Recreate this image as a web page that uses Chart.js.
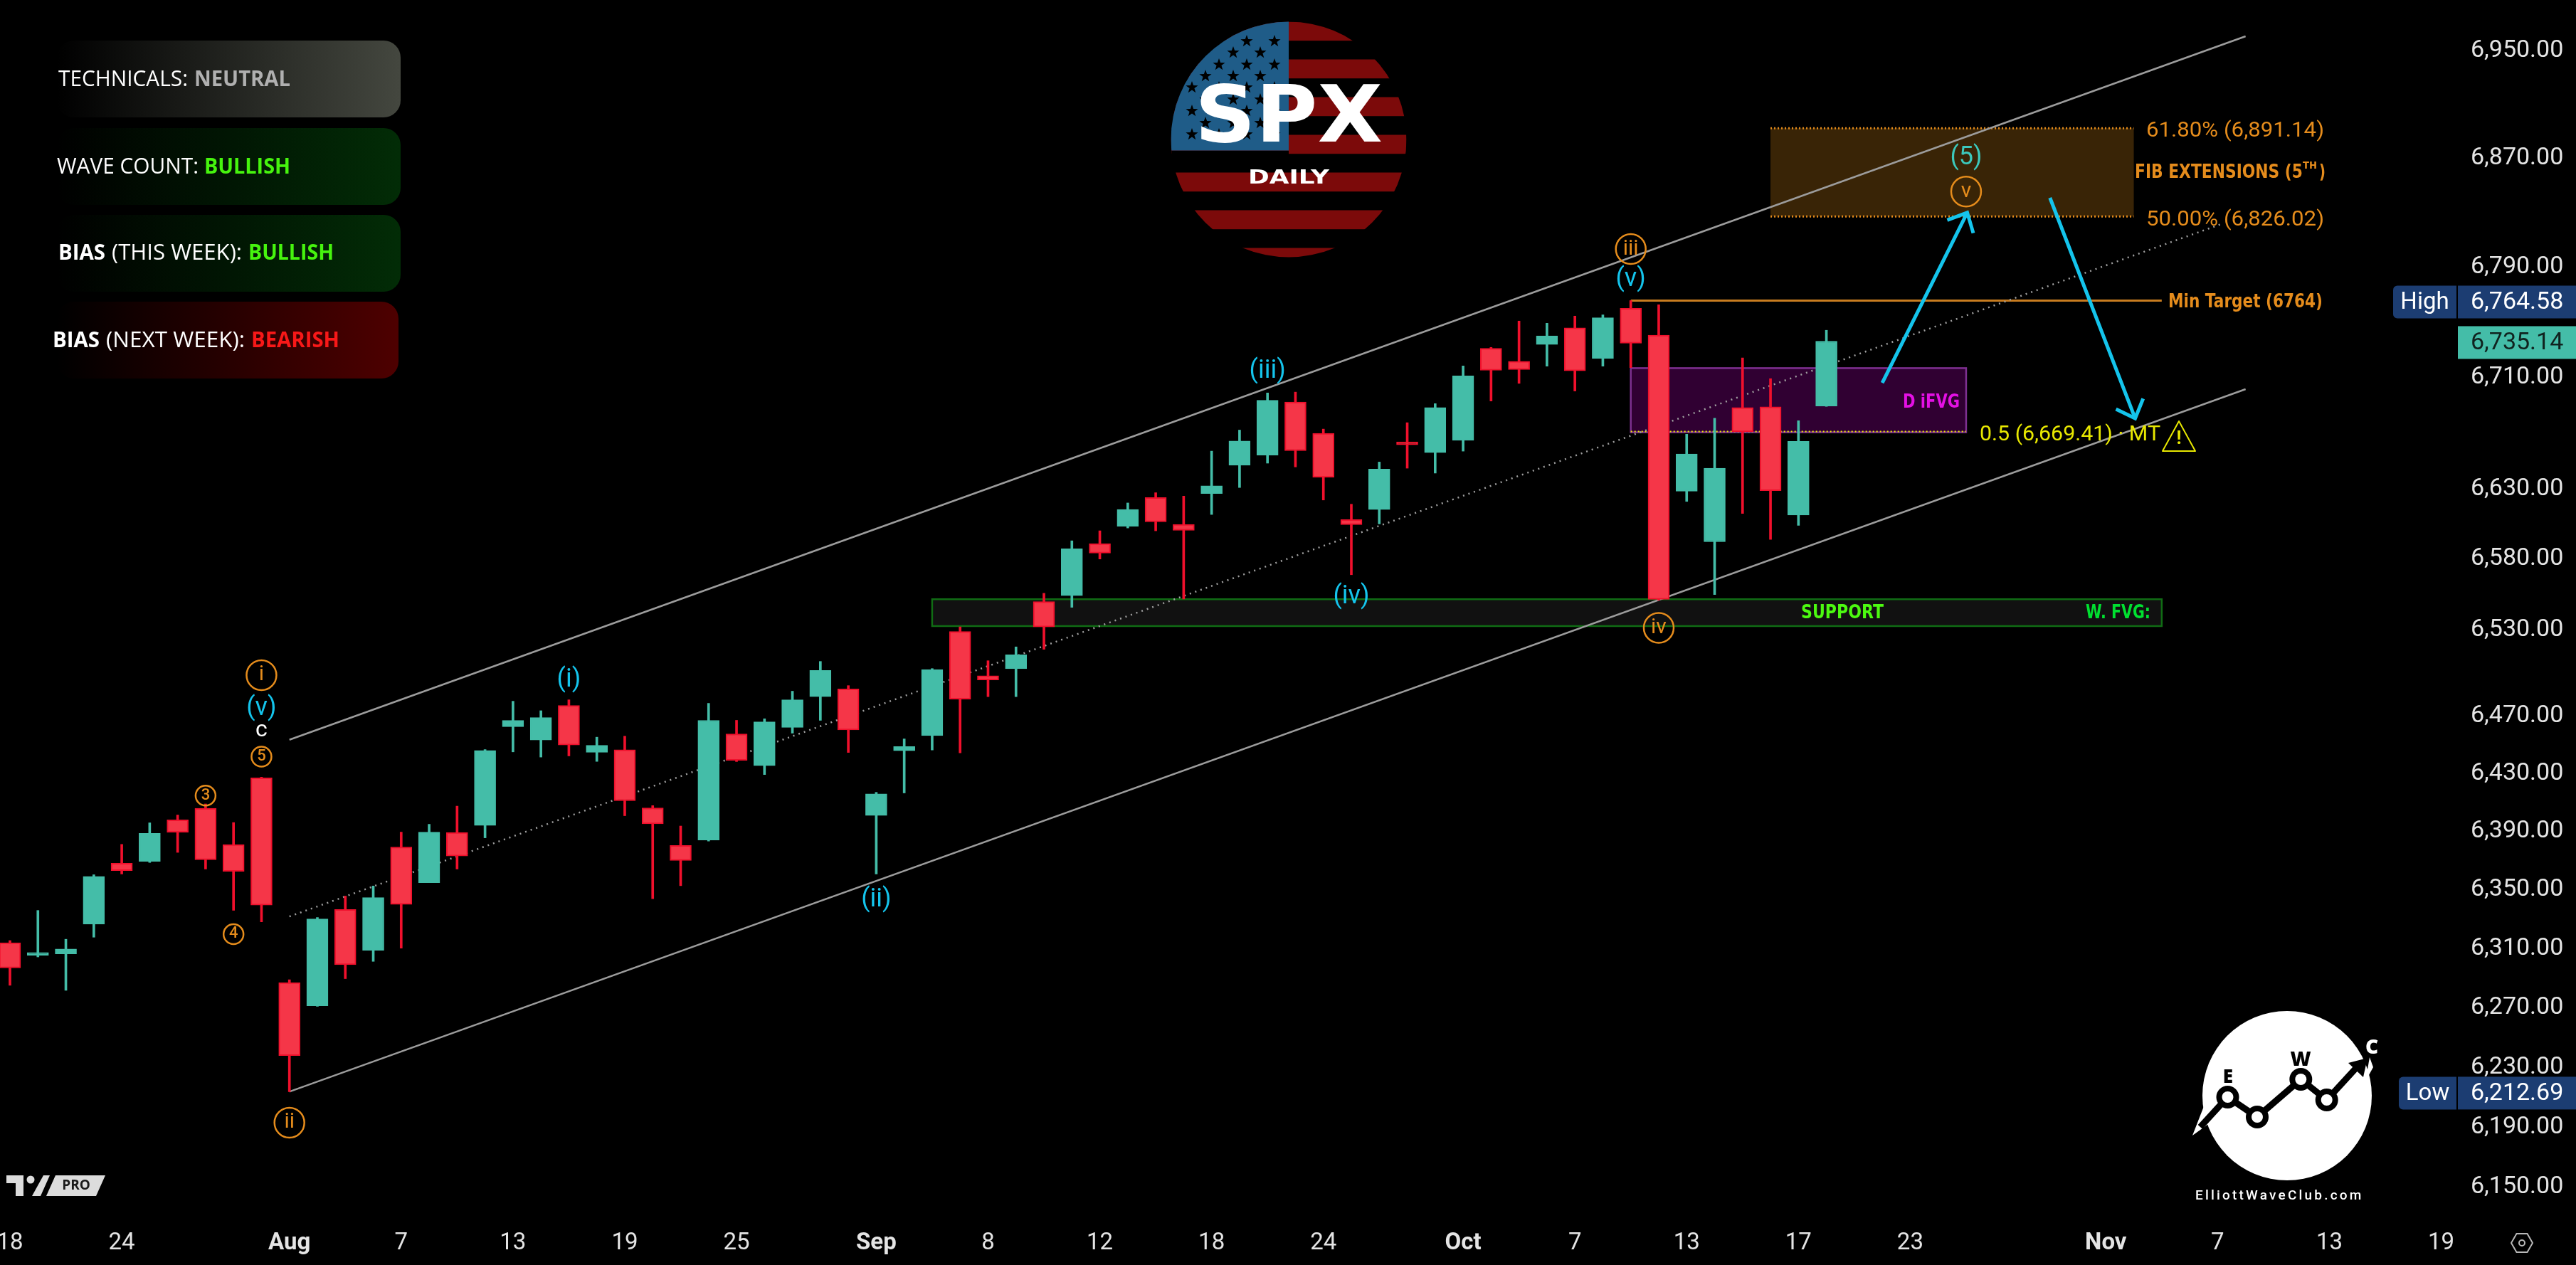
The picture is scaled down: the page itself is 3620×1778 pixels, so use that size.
<!DOCTYPE html>
<html lang="en">
<head>
<meta charset="utf-8">
<title>SPX Daily</title>
<script src="https://cdn.jsdelivr.net/npm/chart.js@4/dist/chart.umd.min.js"></script>
<style>
    html, body { margin: 0; padding: 0; background: #000; }
    canvas { display: block; }
</style>
</head>
<body>
<canvas id="spxChart" width="3620" height="1778"></canvas>
<script>
// daily candles, one entry per trading session
const dates = [
    'Jul 18', 'Jul 21', 'Jul 22', 'Jul 23', 'Jul 24', 'Jul 25', 'Jul 28', 'Jul 29', 'Jul 30', 'Jul 31',
    'Aug 1', 'Aug 4', 'Aug 5', 'Aug 6', 'Aug 7', 'Aug 8', 'Aug 11', 'Aug 12', 'Aug 13', 'Aug 14',
    'Aug 15', 'Aug 18', 'Aug 19', 'Aug 20', 'Aug 21', 'Aug 22', 'Aug 25', 'Aug 26', 'Aug 27', 'Aug 28',
    'Aug 29', 'Sep 2', 'Sep 3', 'Sep 4', 'Sep 5', 'Sep 8', 'Sep 9', 'Sep 10', 'Sep 11', 'Sep 12',
    'Sep 15', 'Sep 16', 'Sep 17', 'Sep 18', 'Sep 19', 'Sep 22', 'Sep 23', 'Sep 24', 'Sep 25', 'Sep 26',
    'Sep 29', 'Sep 30', 'Oct 1', 'Oct 2', 'Oct 3', 'Oct 6', 'Oct 7', 'Oct 8', 'Oct 9', 'Oct 10',
    'Oct 13', 'Oct 14', 'Oct 15', 'Oct 16', 'Oct 17', 'Oct 20'
];
const opens = [
    6313, 6304.5, 6305.5, 6325.7, 6367.2, 6368.5, 6397, 6405, 6380, 6426,
    6286, 6270.4, 6335.6, 6307.9, 6378.3, 6354, 6388.4, 6393.2, 6461.5, 6452.2,
    6476.2, 6443.7, 6445.5, 6405.3, 6379.5, 6383.2, 6456.5, 6434.5, 6461, 6482.4,
    6487.8, 6400.1, 6444.8, 6455.3, 6528, 6497, 6501.9, 6549, 6553.2, 6590,
    6602.3, 6622.7, 6603.7, 6625.6, 6645.8, 6653, 6691.2, 6668.7, 6607, 6614.2,
    6661, 6654.9, 6663.6, 6729.9, 6720.5, 6732.7, 6744.8, 6722.6, 6759, 6739.4,
    6627.3, 6591.3, 6687.2, 6687.7, 6610.3, 6688.3
];
const highs = [
    6314.5, 6335, 6315.4, 6359.4, 6380.2, 6395, 6400.4, 6408, 6395.2, 6426.5,
    6288, 6330.2, 6344.8, 6351.7, 6388.6, 6394, 6406.5, 6445.6, 6479.2, 6472.6,
    6480.2, 6454.2, 6454.9, 6406.8, 6392.8, 6477.7, 6465.9, 6467, 6486.2, 6507,
    6490.1, 6416, 6453, 6502, 6531.2, 6507.5, 6517.2, 6554.9, 6592, 6599.1,
    6618.9, 6626.2, 6623.8, 6655.9, 6671, 6697.7, 6698.3, 6671.7, 6618, 6648.1,
    6676.3, 6690, 6717.2, 6730.6, 6749.7, 6748.1, 6753.3, 6754.2, 6764.58, 6761.5,
    6668, 6679.5, 6723, 6708, 6677.7, 6743
];
const lows = [
    6284.2, 6303.4, 6280.8, 6316.8, 6359.9, 6367.8, 6374.7, 6363.3, 6335.1, 6327.2,
    6212.69, 6270, 6288.7, 6300.4, 6309.3, 6354, 6363.3, 6384.7, 6444, 6440.4,
    6441.2, 6437.4, 6399.9, 6343, 6351.9, 6382.5, 6437.3, 6428.3, 6457, 6465.9,
    6443.6, 6359.9, 6415.6, 6445.3, 6443.3, 6482.4, 6482.4, 6515.5, 6545, 6579.1,
    6601.1, 6599.1, 6550.8, 6610.7, 6629.9, 6647.3, 6644.6, 6621, 6568, 6604,
    6643.7, 6640.2, 6655.9, 6691.9, 6704.6, 6717, 6699.1, 6717, 6716, 6550,
    6620, 6554, 6611.4, 6593, 6602.9, 6688
];
const closes = [
    6296, 6305, 6308.8, 6358.2, 6362.2, 6387.7, 6388.4, 6369.7, 6361.7, 6338.6,
    6236.8, 6329.2, 6298.2, 6343.8, 6339.1, 6388.6, 6372.2, 6445, 6465.8, 6467.8,
    6448.8, 6448.5, 6410.2, 6394.3, 6369.2, 6465.9, 6438.2, 6464.8, 6480.2, 6500.7,
    6459.3, 6415, 6447.7, 6501.3, 6480.7, 6494.1, 6511.7, 6531.2, 6586.3, 6583.3,
    6614.2, 6605.5, 6599.4, 6631.1, 6663.2, 6692.4, 6656.2, 6637.1, 6603.5, 6643,
    6660.5, 6687.2, 6710, 6714.1, 6714.6, 6738.9, 6713.7, 6752.1, 6733.6, 6550.6,
    6653.9, 6643.7, 6669.7, 6627.7, 6662.9, 6735.14
];

// axis ticks; the time axis counts in session slots and runs past the last candle
const priceTicks = [6950, 6870, 6790, 6710, 6630, 6580, 6530, 6470, 6430, 6390, 6350, 6310, 6270, 6230, 6190, 6150];
const timeTickSlots = [0, 4, 10, 14, 18, 22, 26, 31, 35, 39, 43, 47, 52, 56, 60, 64, 68, 75, 79, 83, 87];
const timeTickLabels = ['18', '24', 'Aug', '7', '13', '19', '25', 'Sep', '8', '12', '18', '24', 'Oct', '7', '13', '17', '23', 'Nov', '7', '13', '19'];
const monthLabels = ['Aug', 'Sep', 'Oct', 'Nov'];

// channel lines as [slot, price] pairs
const channelUpper = [[10, 6452.4], [80, 6959.7]];
const channelMiddle = [[10, 6330.9], [79.2, 6821]];
const channelLower = [[10, 6212.69], [80, 6700.4]];
const minTargetLine = [[58, 6764.58], [77, 6764.58]];

// zones as [first slot, last slot, top price, bottom price]
const fibZone = [63, 76, 6891.14, 6826.02];
const ifvgZone = [58, 70, 6715.6, 6669.41];
const supportZone = [33, 77, 6550.7, 6531.8];

// forecast arrows as [slot, price] from tail to tip
const arrowUp = [[67, 6705], [70.04, 6828.9]];
const arrowDown = [[73, 6839.8], [76.05, 6679.4]];

// wave labels as [text, slot, price]
const cyanWaves = [
    ['(v)', 9, 6473.9], ['(i)', 20, 6494], ['(ii)', 31, 6342.2], ['(iii)', 45, 6713.4],
    ['(iv)', 48, 6552.4], ['(v)', 58, 6779.9]
];
const circledWaves = [
    ['i', 9, 6497.4, 21], ['5', 9, 6440.7, 14], ['3', 7, 6413.8, 14], ['4', 8, 6318.9, 14],
    ['ii', 10, 6192, 21], ['iii', 58, 6802.2, 21], ['iv', 59, 6530.5, 21], ['v', 70, 6844.4, 21]
];

const sessionHigh = 6764.58;
const sessionLow = 6212.69;
const lastPrice = 6735.14;

const UP = '#44bda8';
const DOWN = '#f53648';
const DOWN_EDGE = '#f0102c';
const ORANGE = '#e58c1c';
const CYAN = '#14c4ec';
const YELLOW = '#e8e800';
const UI_FONT = '"Open Sans", sans-serif';
const AXIS_FONT = 'Roboto, sans-serif';

// draws text squeezed or stretched to an exact pixel width
function fitText (ctx, text, left, cy, width, font, color) {
    ctx.save();
    ctx.textAlign = 'left';
    ctx.textBaseline = 'middle';
    ctx.font = font;
    ctx.fillStyle = color;
    ctx.translate(left, cy);
    ctx.scale(width / ctx.measureText(text).width, 1);
    ctx.fillText(text, 0, 0);
    ctx.restore();
}

function centerText (ctx, text, x, y, font, color) {
    ctx.save();
    ctx.font = font;
    ctx.fillStyle = color;
    ctx.textAlign = 'center';
    ctx.textBaseline = 'middle';
    ctx.fillText(text, x, y);
    ctx.restore();
}

function roundedPanel (ctx, x, y, w, h, r, color) {
    const fill = ctx.createLinearGradient(x, 0, x + w, 0);
    fill.addColorStop(0, color + '00');
    fill.addColorStop(1, color);
    ctx.fillStyle = fill;
    ctx.beginPath();
    ctx.roundRect(x, y, w, h, r);
    ctx.fill();
}

function drawStatusPanels (ctx) {
    const thin = '400 31px ' + UI_FONT;
    const bold = '700 31px ' + UI_FONT;
    const green = '#46f40e';
    roundedPanel(ctx, 80, 57, 483, 108, 24, '#44473f');
    roundedPanel(ctx, 80, 180, 483, 108, 24, '#022c06');
    roundedPanel(ctx, 80, 302, 483, 108, 24, '#022c06');
    roundedPanel(ctx, 80, 424, 480, 108, 24, '#4e0000');

    fitText(ctx, 'TECHNICALS:', 82, 112, 182, thin, '#fff');
    fitText(ctx, 'NEUTRAL', 273, 112, 135, bold, '#b0b0b0');
    fitText(ctx, 'WAVE COUNT:', 80, 235, 199, thin, '#fff');
    fitText(ctx, 'BULLISH', 287, 235, 121, bold, green);
    fitText(ctx, 'BIAS', 82, 356, 66, bold, '#fff');
    fitText(ctx, '(THIS WEEK):', 157, 356, 183, thin, '#fff');
    fitText(ctx, 'BULLISH', 349, 356, 120, bold, green);
    fitText(ctx, 'BIAS', 74, 479, 66, bold, '#fff');
    fitText(ctx, '(NEXT WEEK):', 149, 479, 195, thin, '#fff');
    fitText(ctx, 'BEARISH', 353, 479, 124, bold, '#f81818');
}

function starPath (ctx, cx, cy, r) {
    ctx.beginPath();
    for (let i = 0; i < 10; i++) {
        const radius = i % 2 ? r * 0.4 : r;
        const a = -Math.PI / 2 + i * Math.PI / 5;
        ctx.lineTo(cx + Math.cos(a) * radius, cy + Math.sin(a) * radius);
    }
    ctx.closePath();
}

function drawFlagBadge (ctx) {
    const cx = 1811, cy = 196, r = 165.5;
    ctx.save();
    ctx.beginPath();
    ctx.arc(cx, cy, r, 0, Math.PI * 2);
    ctx.clip();
    ctx.fillStyle = '#7c0a0a';
    for (let y = 30.5; y < 362; y += 53) {
        ctx.fillRect(cx - r, y, r * 2, 26.7);
    }
    ctx.fillStyle = '#000';
    ctx.fillRect(cx - r, 211.5, r, 27);
    ctx.fillStyle = '#1f5c88';
    ctx.fillRect(cx - r, 30, r, 181.5);
    ctx.fillStyle = '#000';
    const starRows = [
        [58, [1752, 1791]], [74, [1733, 1771]], [91, [1713, 1752, 1791]], [107, [1694, 1733, 1771]],
        [123, [1675, 1713, 1752, 1791]], [140, [1694, 1733, 1771]], [156, [1675, 1713, 1752, 1791]],
        [173, [1694, 1733, 1771]], [189, [1675, 1713, 1752, 1791]]
    ];
    starRows.forEach(([y, xs]) => xs.forEach(x => {
        starPath(ctx, x, y, 9);
        ctx.fill();
    }));
    ctx.restore();
    fitText(ctx, 'SPX', 1679, 170, 264, '700 110px "DejaVu Sans", sans-serif', '#fff');
    fitText(ctx, 'DAILY', 1754, 251, 114, '700 27px "DejaVu Sans", sans-serif', '#fff');
}

function drawClubBadge (ctx) {
    ctx.save();
    ctx.fillStyle = '#fff';
    ctx.beginPath();
    ctx.arc(3214, 1540, 119, 0, Math.PI * 2);
    ctx.fill();
    ctx.beginPath();
    ctx.moveTo(3081, 1596);
    ctx.lineTo(3106, 1578);
    ctx.lineTo(3097, 1555);
    ctx.fill();
    ctx.beginPath();
    ctx.moveTo(3330, 1486);
    ctx.lineTo(3335, 1500);
    ctx.lineTo(3324, 1520);
    ctx.fill();

    const nodes = [[3130.5, 1542], [3172, 1570], [3233.3, 1517], [3269.7, 1546]];
    ctx.strokeStyle = '#000';
    ctx.fillStyle = '#000';
    ctx.lineWidth = 9;
    ctx.beginPath();
    ctx.moveTo(3092, 1584);
    nodes.forEach(([x, y]) => ctx.lineTo(x, y));
    ctx.lineTo(3312, 1500);
    ctx.stroke();
    ctx.beginPath();
    ctx.moveTo(3327, 1487);
    ctx.lineTo(3300, 1494);
    ctx.lineTo(3321, 1514);
    ctx.fill();
    nodes.forEach(([x, y]) => {
        ctx.fillStyle = '#000';
        ctx.beginPath();
        ctx.arc(x, y, 16, 0, Math.PI * 2);
        ctx.fill();
        ctx.fillStyle = '#fff';
        ctx.beginPath();
        ctx.arc(x, y, 8, 0, Math.PI * 2);
        ctx.fill();
    });
    ctx.restore();
    centerText(ctx, 'E', 3131, 1515, '800 26px ' + UI_FONT, '#000');
    centerText(ctx, 'W', 3233, 1490, '800 28px ' + UI_FONT, '#000');
    centerText(ctx, 'C', 3333, 1473, '800 28px ' + UI_FONT, '#fff');
    ctx.save();
    ctx.letterSpacing = '3.2px';
    ctx.textAlign = 'left';
    ctx.textBaseline = 'middle';
    ctx.font = '500 19px ' + AXIS_FONT;
    ctx.fillStyle = '#fff';
    ctx.fillText('ElliottWaveClub.com', 3085, 1681);
    ctx.restore();
}

function drawTvLogo (ctx) {
    ctx.save();
    ctx.fillStyle = '#dcdcdc';
    ctx.beginPath();
    ctx.moveTo(9, 1652);
    ctx.lineTo(33, 1652);
    ctx.lineTo(33, 1681);
    ctx.lineTo(22, 1681);
    ctx.lineTo(22, 1663);
    ctx.lineTo(9, 1663);
    ctx.closePath();
    ctx.fill();
    ctx.beginPath();
    ctx.arc(43, 1658, 5.5, 0, Math.PI * 2);
    ctx.fill();
    ctx.beginPath();
    ctx.moveTo(45, 1681);
    ctx.lineTo(61, 1652);
    ctx.lineTo(70, 1652);
    ctx.lineTo(57, 1681);
    ctx.closePath();
    ctx.fill();
    ctx.beginPath();
    ctx.moveTo(78, 1652);
    ctx.lineTo(148, 1652);
    ctx.lineTo(135, 1681);
    ctx.lineTo(65, 1681);
    ctx.closePath();
    ctx.fill();
    ctx.restore();
    centerText(ctx, 'PRO', 107, 1667, '700 19px ' + UI_FONT, '#1a1a1a');
}

function drawGear (ctx) {
    const cx = 3544, cy = 1747, r = 15;
    ctx.save();
    ctx.strokeStyle = '#b8b8b8';
    ctx.lineWidth = 2;
    ctx.beginPath();
    for (let i = 0; i < 6; i++) {
        const a = i * Math.PI / 3;
        ctx.lineTo(cx + Math.cos(a) * r, cy + Math.sin(a) * r);
    }
    ctx.closePath();
    ctx.stroke();
    ctx.beginPath();
    ctx.arc(cx, cy, 4, 0, Math.PI * 2);
    ctx.stroke();
    ctx.restore();
}

function zoneRect (chart, zone) {
    const { x, y } = chart.scales;
    const left = x.getPixelForValue(zone[0]);
    const right = x.getPixelForValue(zone[1]);
    const top = y.getPixelForValue(zone[2]);
    const bottom = y.getPixelForValue(zone[3]);
    return { left, right, top, bottom, width: right - left, height: bottom - top };
}

function hLine (ctx, x1, x2, y, color, width, dash) {
    ctx.save();
    ctx.strokeStyle = color;
    ctx.lineWidth = width;
    ctx.setLineDash(dash || []);
    ctx.beginPath();
    ctx.moveTo(x1, y);
    ctx.lineTo(x2, y);
    ctx.stroke();
    ctx.restore();
}

// shaded zones sit under the channel lines and the candles
const zonesPlugin = {
    id: 'zones',
    beforeDatasetsDraw (chart) {
        const ctx = chart.ctx;

        let r = zoneRect(chart, fibZone);
        ctx.fillStyle = '#392406';
        ctx.fillRect(r.left, r.top, r.width, r.height);
        hLine(ctx, r.left, r.right, r.top, ORANGE, 3, [2, 3]);
        hLine(ctx, r.left, r.right, r.bottom, ORANGE, 3, [2, 3]);

        r = zoneRect(chart, ifvgZone);
        ctx.fillStyle = '#300032';
        ctx.fillRect(r.left, r.top, r.width, r.height);
        ctx.strokeStyle = '#7d3090';
        ctx.lineWidth = 2.5;
        ctx.strokeRect(r.left, r.top, r.width, r.height);
        hLine(ctx, r.left, r.right, r.bottom - 1, YELLOW, 2, [2, 3]);

        r = zoneRect(chart, supportZone);
        ctx.fillStyle = '#111111';
        ctx.fillRect(r.left, r.top, r.width, r.height);
        ctx.strokeStyle = '#106c14';
        ctx.lineWidth = 2.5;
        ctx.strokeRect(r.left, r.top, r.width, r.height);
    }
};

function drawArrow (chart, points) {
    const { x, y } = chart.scales;
    const ctx = chart.ctx;
    const x1 = x.getPixelForValue(points[0][0]);
    const y1 = y.getPixelForValue(points[0][1]);
    const x2 = x.getPixelForValue(points[1][0]);
    const y2 = y.getPixelForValue(points[1][1]);
    const back = Math.atan2(y1 - y2, x1 - x2);
    const spread = 43 * Math.PI / 180;
    ctx.save();
    ctx.strokeStyle = CYAN;
    ctx.lineWidth = 5;
    ctx.beginPath();
    ctx.moveTo(x1, y1);
    ctx.lineTo(x2, y2);
    ctx.moveTo(x2 + Math.cos(back - spread) * 30, y2 + Math.sin(back - spread) * 30);
    ctx.lineTo(x2, y2);
    ctx.lineTo(x2 + Math.cos(back + spread) * 30, y2 + Math.sin(back + spread) * 30);
    ctx.stroke();
    ctx.restore();
}

function drawPriceBadge (ctx, price, name, box, color, textColor) {
    // Roboto's middle baseline sits a little high, nudge the badge with it
    const y = ctx.canvas.chartY(price) + 2;
    ctx.fillStyle = color;
    if (name) {
        ctx.beginPath();
        ctx.roundRect(box, y - 23, 3452 - box, 46, [6, 0, 0, 6]);
        ctx.fill();
        centerText(ctx, name, (box + 3452) / 2, y + 1, '400 33px ' + AXIS_FONT, '#fff');
    }
    ctx.fillStyle = color;
    ctx.fillRect(3454, y - 23, 166, 46);
    ctx.save();
    ctx.font = '400 34px ' + AXIS_FONT;
    ctx.fillStyle = textColor;
    ctx.textAlign = 'left';
    ctx.textBaseline = 'middle';
    ctx.fillText(priceText(price), 3472, y + 1);
    ctx.restore();
}

const priceText = v => v.toLocaleString('en-US', { minimumFractionDigits: 2, maximumFractionDigits: 2 });

// labels, arrows, price badges and the corner artwork go over everything else
const overlayPlugin = {
    id: 'overlay',
    afterDatasetsDraw (chart) {
        const ctx = chart.ctx;
        const { x, y } = chart.scales;
        ctx.canvas.chartY = price => y.getPixelForValue(price);

        const levelText = '400 30px ' + AXIS_FONT;
        const narrowBold = '700 26px "DejaVu Sans", sans-serif';
        fitText(ctx, '61.80% (6,891.14)', 3016, 184, 250, levelText, ORANGE);
        fitText(ctx, '50.00% (6,826.02)', 3016, 309, 250, levelText, ORANGE);
        fitText(ctx, 'FIB EXTENSIONS (5', 3000, 243, 236, narrowBold, ORANGE);
        fitText(ctx, 'TH', 3236, 233, 20, '700 14px "DejaVu Sans", sans-serif', ORANGE);
        fitText(ctx, ')', 3259, 243, 9, narrowBold, ORANGE);
        fitText(ctx, 'Min Target (6764)', 3047, 425, 217, narrowBold, ORANGE);
        fitText(ctx, 'D iFVG', 2674, 566, 80, narrowBold, '#e410e4');
        fitText(ctx, 'SUPPORT', 2531, 862, 116, narrowBold, '#4cfa10');
        fitText(ctx, 'W. FVG:', 2931, 862, 91, narrowBold, '#00e030');
        fitText(ctx, '0.5 (6,669.41) · MT', 2782, 611, 254, levelText, YELLOW);

        // warning sign after the 0.5 level
        ctx.save();
        ctx.strokeStyle = YELLOW;
        ctx.lineWidth = 2;
        ctx.lineJoin = 'round';
        ctx.beginPath();
        ctx.moveTo(3062, 592);
        ctx.lineTo(3085, 634);
        ctx.lineTo(3039, 634);
        ctx.closePath();
        ctx.stroke();
        ctx.restore();
        centerText(ctx, '!', 3062, 617, '700 26px ' + AXIS_FONT, YELLOW);

        drawArrow(chart, arrowUp);
        drawArrow(chart, arrowDown);

        cyanWaves.forEach(([text, slot, price]) => {
            centerText(ctx, text, x.getPixelForValue(slot), y.getPixelForValue(price), '400 36px ' + AXIS_FONT, CYAN);
        });
        centerText(ctx, 'c', x.getPixelForValue(9), 1027, '400 32px ' + AXIS_FONT, '#fff');
        centerText(ctx, '(5)', x.getPixelForValue(70), y.getPixelForValue(6869), '400 36px ' + AXIS_FONT, '#3cc8bc');

        circledWaves.forEach(([text, slot, price, radius]) => {
            const cx = x.getPixelForValue(slot);
            const cy = y.getPixelForValue(price);
            ctx.save();
            ctx.strokeStyle = ORANGE;
            ctx.lineWidth = 2.5;
            ctx.beginPath();
            ctx.arc(cx, cy, radius, 0, Math.PI * 2);
            ctx.stroke();
            ctx.restore();
            centerText(ctx, text, cx, cy, (radius > 15 ? '400 30px ' : '500 22px ') + AXIS_FONT, ORANGE);
        });

        drawPriceBadge(ctx, sessionHigh, 'High', 3363, '#1c3d72', '#fff');
        drawPriceBadge(ctx, lastPrice, null, 3454, UP, '#10231f');
        drawPriceBadge(ctx, sessionLow, 'Low', 3371, '#1c3d72', '#fff');

        drawStatusPanels(ctx);
        drawFlagBadge(ctx);
        drawClubBadge(ctx);
        drawTvLogo(ctx);
        drawGear(ctx);
    }
};

const slots = dates.map((d, i) => i);
const candleColor = i => closes[i] >= opens[i] ? UP : DOWN;
const edgeColor = i => closes[i] >= opens[i] ? UP : DOWN_EDGE;
const toPoints = pairs => pairs.map(([slot, price]) => ({ x: slot, y: price }));

function lineDataset (pairs, color, width, dash) {
    return {
        type: 'line',
        data: toPoints(pairs),
        borderColor: color,
        borderWidth: width,
        borderDash: dash || [],
        pointRadius: 0,
        tension: 0,
        fill: false,
        order: 3
    };
}

new Chart(document.getElementById('spxChart'), {
    type: 'bar',
    data: {
        datasets: [
            lineDataset(channelUpper, '#9c9c9c', 2.5),
            lineDataset(channelLower, '#9c9c9c', 2.5),
            lineDataset(channelMiddle, '#a0a0a0', 2.5, [2, 6]),
            lineDataset(minTargetLine, '#c87c20', 3),
            {
                label: 'Range',
                data: slots.map(i => ({ x: i, y: [lows[i], highs[i]] })),
                backgroundColor: slots.map(edgeColor),
                borderWidth: 0,
                barThickness: 3,
                order: 2
            },
            {
                label: 'Body',
                data: slots.map(i => ({ x: i, y: [opens[i], closes[i]] })),
                backgroundColor: slots.map(candleColor),
                borderColor: slots.map(edgeColor),
                borderWidth: 2,
                borderSkipped: false,
                barThickness: 30,
                minBarLength: 4,
                order: 1
            }
        ]
    },
    plugins: [zonesPlugin, overlayPlugin],
    options: {
        responsive: false,
        animation: false,
        devicePixelRatio: 1,
        layout: { padding: 0 },
        datasets: { bar: { grouped: false } },
        plugins: {
            legend: { display: false },
            tooltip: { enabled: false }
        },
        scales: {
            x: {
                type: 'linear',
                bounds: 'data',
                offset: false,
                min: -0.3565,
                max: 87.75,
                grid: { display: false, drawTicks: false },
                border: { display: false },
                // edge tick labels may hang outside the plot, the area keeps the full width
                afterFit: scale => {
                    scale.height = 63;
                    scale.paddingLeft = 0;
                    scale.paddingRight = 0;
                },
                afterBuildTicks: scale => {
                    scale.ticks = timeTickSlots.map(value => ({ value }));
                },
                ticks: {
                    autoSkip: false,
                    maxRotation: 0,
                    padding: 13,
                    color: '#e4e4e4',
                    font: ctx => ({
                        family: 'Roboto',
                        size: 33,
                        weight: monthLabels.includes(timeTickLabels[ctx.index]) ? '700' : '400'
                    }),
                    callback: (value, index) => timeTickLabels[index]
                }
            },
            y: {
                type: 'logarithmic',
                position: 'right',
                bounds: 'data',
                min: 6127.4,
                max: 6986.9,
                grid: { display: false, drawTicks: false },
                border: { display: false },
                afterFit: scale => {
                    scale.width = 160;
                    scale.paddingTop = 0;
                    scale.paddingBottom = 0;
                },
                afterBuildTicks: scale => {
                    scale.ticks = priceTicks.map(value => ({ value }));
                },
                ticks: {
                    autoSkip: false,
                    padding: 12,
                    labelOffset: 2,
                    color: '#e4e4e4',
                    font: { family: 'Roboto', size: 34 },
                    callback: value => priceText(value)
                }
            }
        }
    }
});
</script>
</body>
</html>
